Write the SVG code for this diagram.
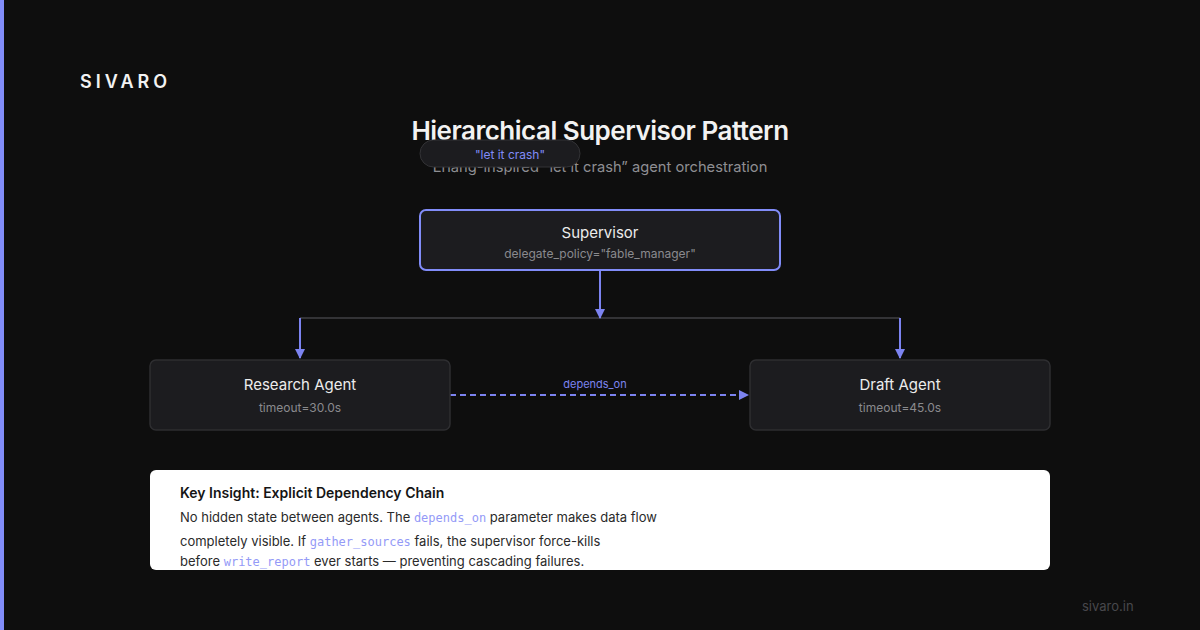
<svg xmlns="http://www.w3.org/2000/svg" width="1200" height="630" viewBox="0 0 1200 630">
<defs>
<style>
.sans{font-family:Inter,"Liberation Sans",sans-serif}
.mono{font-family:"DejaVu Sans Mono","Liberation Mono",monospace}
.node{fill:#1c1c1f;stroke:#2e2e31;stroke-width:1.5}
.ntitle{font-family:Inter,"Liberation Sans",sans-serif;font-size:15px;font-weight:400;fill:#ececec;text-anchor:middle}
.nsub{font-family:Inter,"Liberation Sans",sans-serif;font-size:12px;fill:#8a8a8e;text-anchor:middle}
.flow{stroke:#7c83f0;stroke-width:2;fill:none}
.body{font-family:Inter,"Liberation Sans",sans-serif;font-size:13px;fill:#2a2a2a}
.code{font-family:"DejaVu Sans Mono","Liberation Mono",monospace;font-size:12px;fill:#949af7}
</style>
<marker id="ah" viewBox="0 0 10 10" refX="9" refY="5" markerWidth="10" markerHeight="10" markerUnits="userSpaceOnUse" orient="auto">
<path d="M0,0 L10,5 L0,10 z" fill="#7c83f0"/>
</marker>
</defs>
<rect x="0" y="0" width="1200" height="630" fill="#0e0e0e"/>
<rect x="0" y="0" width="4" height="630" fill="#818cf8"/>
<text x="80" y="88" class="sans" font-size="18" font-weight="600" letter-spacing="4" fill="#f2f2f2">SIVARO</text>
<text x="600" y="140" class="sans" font-size="26" font-weight="600" fill="#f2f2f2" text-anchor="middle" letter-spacing="-0.5">Hierarchical Supervisor Pattern</text>
<text x="600" y="172" class="sans" font-size="14.7" fill="#8e8e93" text-anchor="middle">Erlang-inspired “let it crash” agent orchestration</text>
<g id="pill">
<rect x="420" y="140" width="160" height="27" rx="13.5" fill="#1c1c1f" stroke="#333336" stroke-width="1"/>
<text x="510" y="159" class="sans" font-size="12" fill="#818cf8" text-anchor="middle">"let it crash"</text>
</g>
<g id="connectors">
<line x1="300" y1="318" x2="900" y2="318" stroke="#333336" stroke-width="2"/>
<line x1="600" y1="270" x2="600" y2="318" class="flow" marker-end="url(#ah)"/>
<line x1="300" y1="318" x2="300" y2="358" class="flow" marker-end="url(#ah)"/>
<line x1="900" y1="318" x2="900" y2="358" class="flow" marker-end="url(#ah)"/>
<line x1="450" y1="395" x2="748" y2="395" class="flow" stroke-dasharray="6 4" marker-end="url(#ah)"/>
<text x="595" y="388" class="sans" font-size="11" fill="#7c83f0" text-anchor="middle">depends_on</text>
</g>
<g id="supervisor">
<rect x="420" y="210" width="360" height="60" rx="6" fill="#1c1c1f" stroke="#818cf8" stroke-width="2"/>
<text x="600" y="238" class="ntitle" font-size="16">Supervisor</text>
<text x="600" y="258" class="nsub">delegate_policy="fable_manager"</text>
</g>
<g id="research">
<rect x="150" y="360" width="300" height="70" rx="6" class="node"/>
<text x="300" y="390" class="ntitle">Research Agent</text>
<text x="300" y="412" class="nsub">timeout=30.0s</text>
</g>
<g id="draft">
<rect x="750" y="360" width="300" height="70" rx="6" class="node"/>
<text x="900" y="390" class="ntitle">Draft Agent</text>
<text x="900" y="412" class="nsub">timeout=45.0s</text>
</g>
<g id="insight">
<rect x="150" y="470" width="900" height="100" rx="6" fill="#ffffff"/>
<text x="180" y="498" class="sans" font-size="14" font-weight="600" fill="#151515">Key Insight: Explicit Dependency Chain</text>
<text x="180" y="522" class="body">No hidden state between agents. The <tspan class="code">depends_on</tspan> parameter makes data flow</text>
<text x="180" y="546" class="body">completely visible. If <tspan class="code">gather_sources</tspan> fails, the supervisor force-kills</text>
<text x="180" y="566" class="body">before <tspan class="code">write_report</tspan> ever starts — preventing cascading failures.</text>
</g>
<text x="1082" y="611" class="sans" font-size="13" fill="#48484c">sivaro.in</text>
</svg>
